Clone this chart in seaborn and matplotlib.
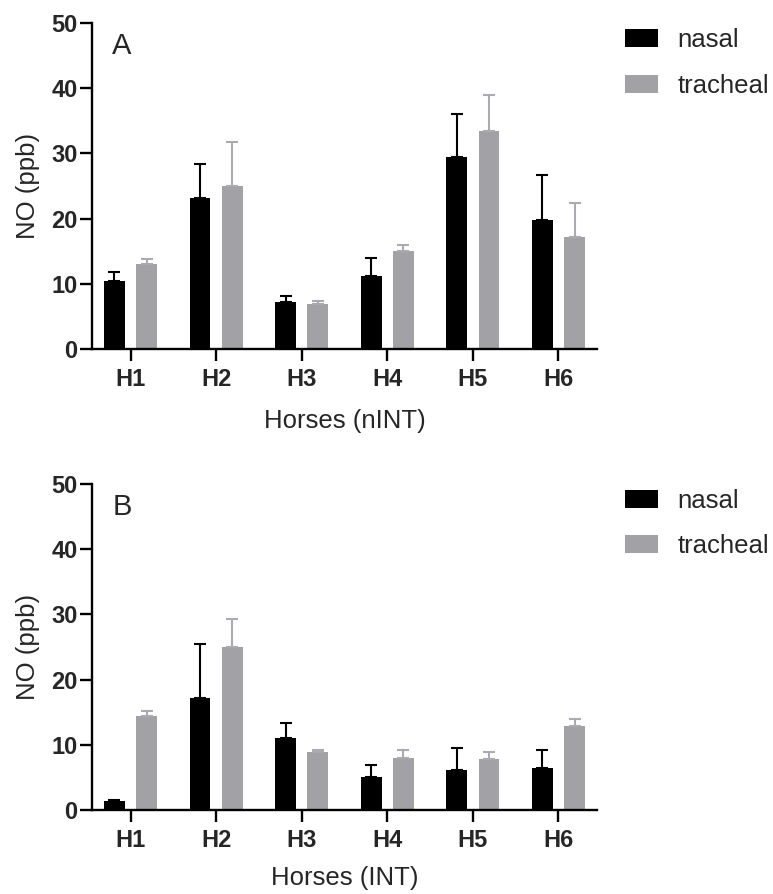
import matplotlib
matplotlib.use('Agg')
import matplotlib.pyplot as plt
import pandas as pd
import seaborn as sns

# data
horses = ['H1', 'H2', 'H3', 'H4', 'H5', 'H6']
sites = ['nasal', 'tracheal']

nint_nasal = [10.5, 23.2, 7.25, 11.25, 29.45, 19.8]
nint_nasal_err = [1.35, 5.1, 0.95, 2.7, 6.6, 6.9]
nint_tracheal = [13.0, 24.95, 6.9, 15.1, 33.4, 17.2]
nint_tracheal_err = [0.85, 6.8, 0.5, 0.85, 5.55, 5.25]

int_nasal = [1.42, 17.2, 11.0, 5.05, 6.2, 6.4]
int_nasal_err = [0.15, 8.25, 2.4, 1.9, 3.35, 2.85]
int_tracheal = [14.4, 24.95, 8.9, 7.95, 7.9, 12.9]
int_tracheal_err = [0.8, 4.35, 0.35, 1.3, 1.0, 1.05]

colors = {'nasal': '#000000', 'tracheal': '#A2A2A6'}
err_colors = {'nasal': '#000000', 'tracheal': '#ABABAF'}

sns.set_style('ticks')
plt.rcParams['font.family'] = ['Liberation Sans', 'DejaVu Sans']


def make_df(nasal, tracheal):
    return pd.DataFrame({
        'horse': horses * 2,
        'site': ['nasal'] * len(horses) + ['tracheal'] * len(horses),
        'value': nasal + tracheal,
    })


def draw_panel(ax, nasal, nasal_err, tracheal, tracheal_err, xlabel, letter, xpad):
    df = make_df(nasal, tracheal)
    sns.barplot(data=df, x='horse', y='value', hue='site', hue_order=sites,
                palette=colors, width=0.75, gap=0.35, errorbar=None,
                linewidth=0, saturation=1, ax=ax)

    # upward-only error bars on top of each bar
    errs = {'nasal': nasal_err, 'tracheal': tracheal_err}
    for site, cont in zip(sites, ax.containers):
        for bar, e in zip(cont, errs[site]):
            x = bar.get_x() + bar.get_width() / 2
            h = bar.get_height()
            ax.errorbar(x, h, yerr=[[0], [e]], fmt='none', ecolor=err_colors[site],
                        elinewidth=1.5, capsize=4.3, capthick=1.5, zorder=1)

    ax.set_ylim(0, 50)
    ax.set_xlim(-0.45, 5.45)
    ax.set_yticks([0, 10, 20, 30, 40, 50])
    ax.set_xlabel(xlabel, fontsize=18.5, labelpad=xpad)
    ax.set_ylabel('NO (ppb)', fontsize=18.5, labelpad=8)
    ax.tick_params(axis='both', labelsize=17, width=1.7, length=8.5, color='black')
    for lab in ax.get_xticklabels() + ax.get_yticklabels():
        lab.set_fontweight('bold')
    ax.tick_params(axis='y', pad=2)
    ax.tick_params(axis='x', pad=5)
    for s in ['left', 'bottom']:
        ax.spines[s].set_linewidth(1.7)
        ax.spines[s].set_color('black')
    sns.despine(ax=ax)

    ax.text(0.04, 0.905, letter, transform=ax.transAxes, fontsize=21)

    ax.legend(loc='upper left', bbox_to_anchor=(1.055, 0.985), frameon=False,
              fontsize=18.5, handlelength=1.3, handleheight=0.7,
              handletextpad=0.75, labelspacing=0.85, borderaxespad=0, borderpad=0)


fig = plt.figure(figsize=(7.73, 8.94), dpi=100)
ax_a = fig.add_axes([92 / 773, 1 - 349 / 894, 505 / 773, 326 / 894])
ax_b = fig.add_axes([92 / 773, 1 - 810.3 / 894, 505 / 773, 326.6 / 894])

draw_panel(ax_a, nint_nasal, nint_nasal_err, nint_tracheal, nint_tracheal_err,
           'Horses (nINT)', 'A', 13)
draw_panel(ax_b, int_nasal, int_nasal_err, int_tracheal, int_tracheal_err,
           'Horses (INT)', 'B', 10)

fig.savefig('out.png', dpi=100)
